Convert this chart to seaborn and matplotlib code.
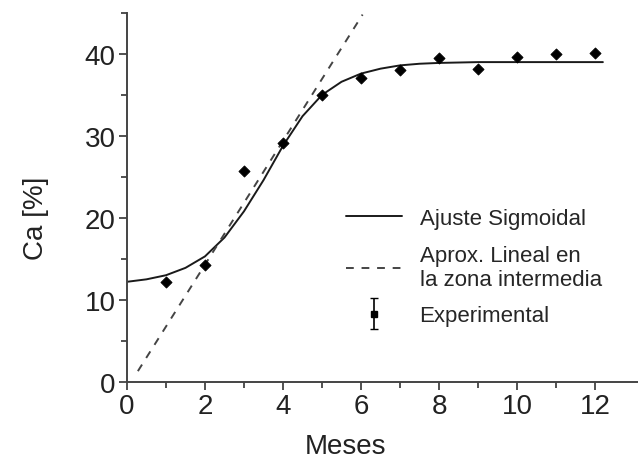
import numpy as np
import pandas as pd
import seaborn as sns
import matplotlib.pyplot as plt
from matplotlib.ticker import MultipleLocator, FixedLocator
from matplotlib.lines import Line2D
from matplotlib.container import ErrorbarContainer
from matplotlib.legend_handler import HandlerErrorbar

# experimental points
meses = [1, 2, 3, 4, 5, 6, 7, 8, 9, 10, 11, 12]
ca = [12.2, 14.3, 25.7, 29.1, 35.0, 37.0, 38.0, 39.5, 38.2, 39.6, 40.0, 40.1]

# sigmoidal fit
fit_x = [0, 0.5, 1, 1.5, 2, 2.5, 3, 3.5, 4, 4.5, 5, 5.5, 6, 6.5, 7, 7.5, 8, 9, 10, 11, 12.2]
fit_y = [12.2, 12.5, 13.0, 13.9, 15.3, 17.6, 20.8, 24.6, 28.8, 32.4, 35.0, 36.6, 37.6, 38.2, 38.6, 38.8, 38.9, 39.0, 39.0, 39.0, 39.0]

# linear approximation in the middle zone
lin_x = [0.28, 6.04]
lin_y = [1.3, 44.8]

sns.set_style('ticks')
plt.rcParams['font.family'] = ['Liberation Sans', 'DejaVu Sans']

fig = plt.figure(figsize=(6.38, 4.64), dpi=100)
ax = fig.add_axes([0.199, 0.175, 0.801, 0.795])

col = '#1a1a1a'
df_fit = pd.DataFrame({'x': fit_x, 'y': fit_y})
df_lin = pd.DataFrame({'x': lin_x, 'y': lin_y})
df_exp = pd.DataFrame({'x': meses, 'y': ca})

sns.lineplot(data=df_fit, x='x', y='y', ax=ax, color=col, lw=1.4, sort=False)
sns.lineplot(data=df_lin, x='x', y='y', ax=ax, color='#444444', lw=1.4, ls=(0, (4, 4)))
sns.scatterplot(data=df_exp, x='x', y='y', ax=ax, color='black', marker='D', s=32, edgecolor='black', linewidth=0.6, zorder=3)

ax.set_xlim(0, 13.1)
ax.set_ylim(0, 45)
ax.xaxis.set_major_locator(MultipleLocator(2))
ax.xaxis.set_minor_locator(FixedLocator([1, 3, 5, 7, 9, 11]))
ax.yaxis.set_major_locator(MultipleLocator(10))
ax.yaxis.set_minor_locator(MultipleLocator(5))
ax.tick_params(which='major', length=6, width=1.2, labelsize=20, colors='#333333', labelcolor='#222222', pad=2)
ax.tick_params(which='minor', length=4, width=1.2, colors='#333333')
for s in ['top', 'right']:
    ax.spines[s].set_visible(False)
for s in ['left', 'bottom']:
    ax.spines[s].set_linewidth(1.4)
    ax.spines[s].set_color('#444444')

ax.set_xlabel('Meses', fontsize=20, color='#222222', labelpad=10, x=0.427)
ax.set_ylabel('Ca [%]', fontsize=20, color='#222222', labelpad=26, y=0.447)

h1 = Line2D([], [], color=col, lw=1.4)
h2 = Line2D([], [], color='#444444', lw=1.4, ls=(0, (4, 4)))
h3 = ax.errorbar([np.nan], [np.nan], yerr=[1], fmt='s', color='black', ms=4, capsize=3, elinewidth=1.2)
ax.legend([h1, h2, h3], ['Ajuste Sigmoidal', 'Aprox. Lineal en\nla zona intermedia', 'Experimental'],
          loc='upper left', bbox_to_anchor=(0.39, 0.525), frameon=False, fontsize=16,
          handlelength=2.5, labelspacing=0.7, handletextpad=0.8,
          handler_map={ErrorbarContainer: HandlerErrorbar(yerr_size=0.7)})

fig.savefig('out.png', dpi=100)
